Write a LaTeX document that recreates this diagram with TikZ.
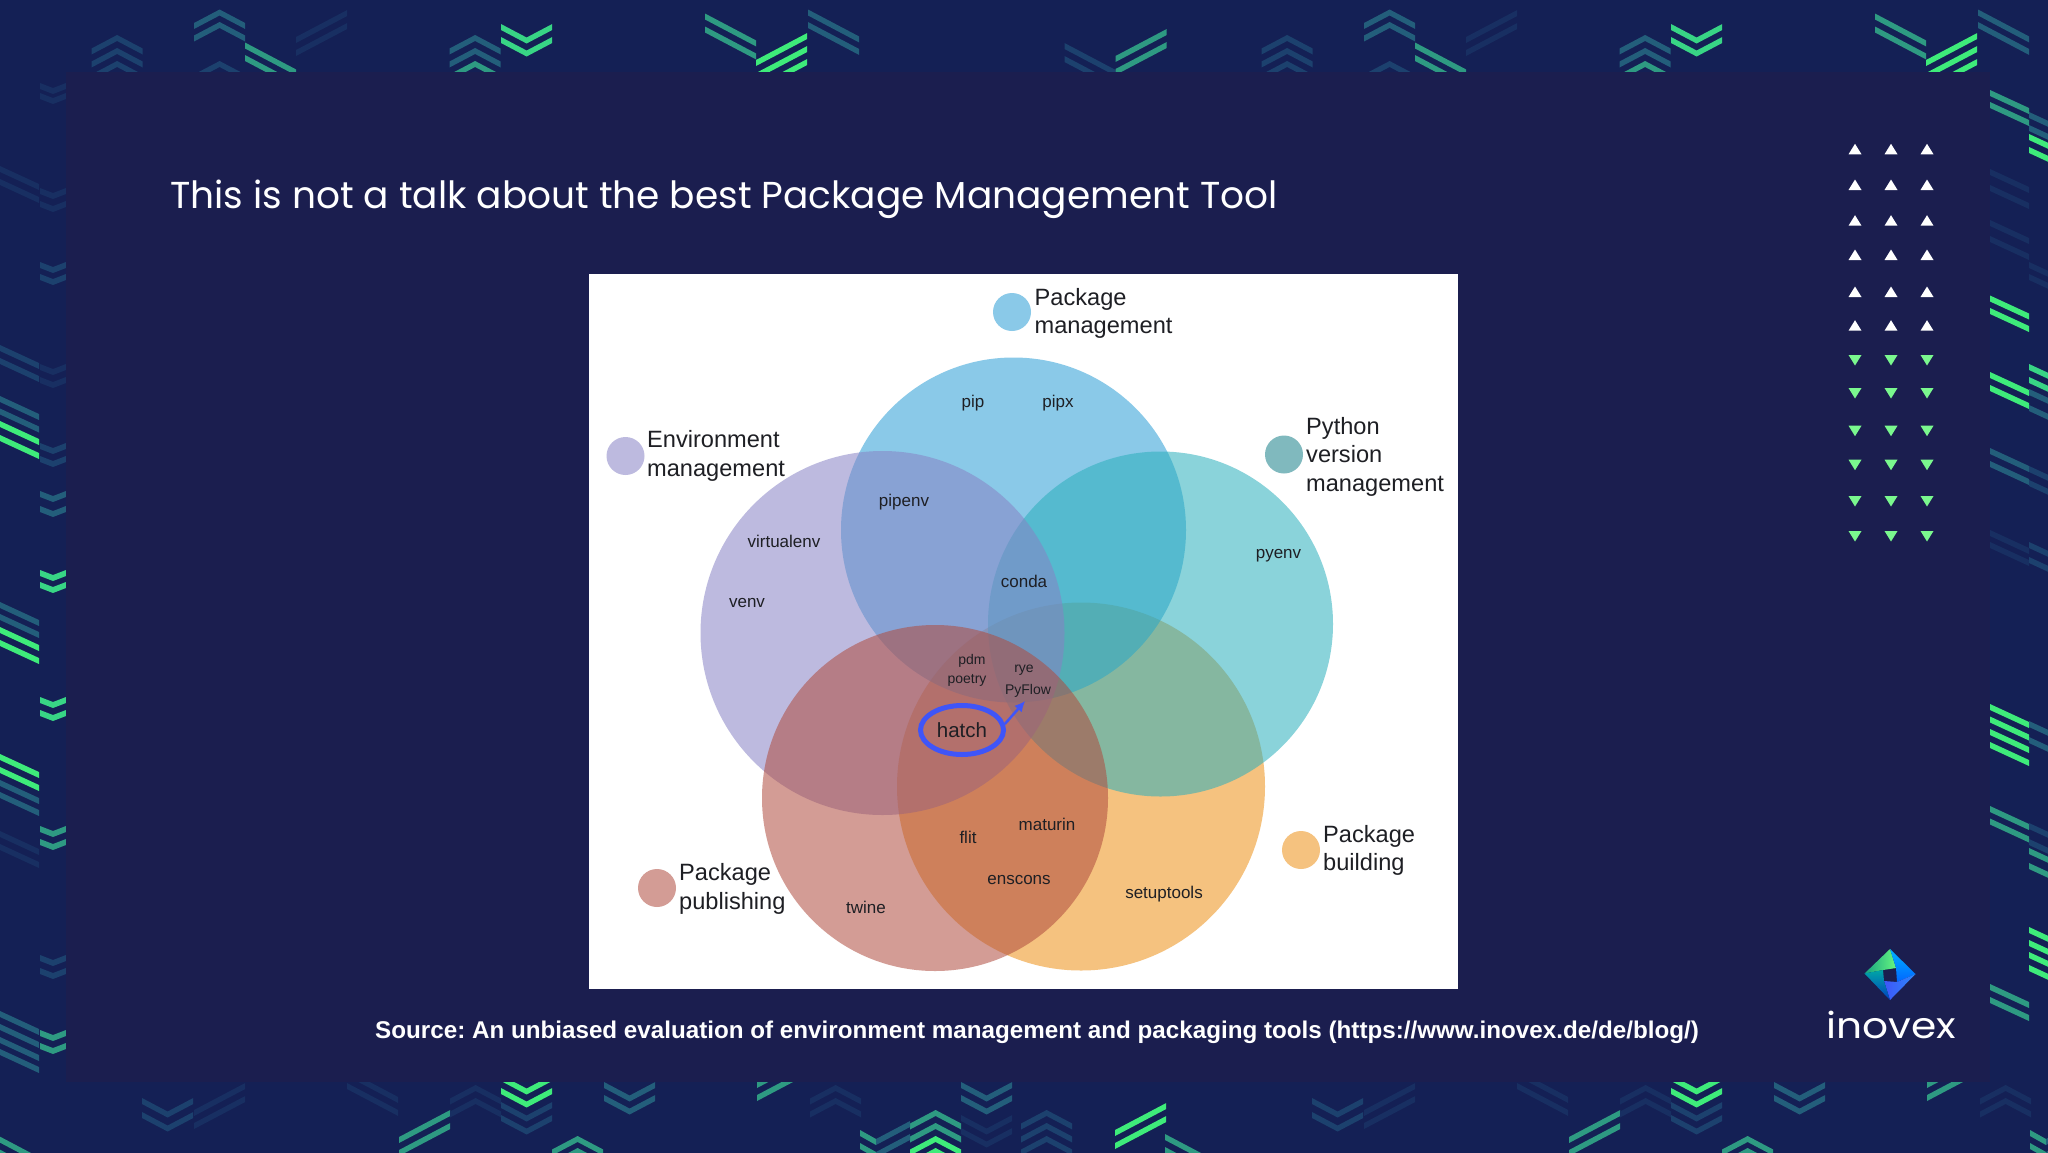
\documentclass[tikz,border=0pt]{standalone}
\usepackage{fontspec}
\setmainfont{Liberation Sans}
\newfontfamily\titlefont{Poppins}
\usetikzlibrary{shapes.geometric, arrows.meta}
\definecolor{bandbg}{HTML}{142055}
\definecolor{panelbg}{HTML}{1B1E4F}
\definecolor{gA}{HTML}{3EEB7A}
\definecolor{gB}{HTML}{38D585}
\definecolor{gC}{HTML}{2E9A82}
\definecolor{gD}{HTML}{235E7B}
\definecolor{gE}{HTML}{1C416E}
\definecolor{gF}{HTML}{182F62}
\definecolor{pmcol}{HTML}{2A9DD6}
\definecolor{envcol}{HTML}{8782C5}
\definecolor{pyvcol}{HTML}{2AAFBC}
\definecolor{pubcol}{HTML}{AF4B3E}
\definecolor{bldcol}{HTML}{ED9016}
\definecolor{ringcol}{HTML}{3F55F8}
\definecolor{labelcol}{HTML}{1E1F24}
\def\tilew{51.2}
\def\tiled{13.5}
\newcommand{\ptile}[6]{\fill[#6] (#1,#2) -- ++({#3/2},#4) -- ++({#3/2},#5) -- ++(0,6) -- ++({-#3/2},{-(#5)}) -- ++({-#3/2},{-(#4)}) -- cycle;}
\newcommand{\chup}[3]{\foreach \yy in {#2} {\ptile{#1}{\yy+\tiled}{\tilew}{-\tiled}{\tiled}{#3}}}
\newcommand{\chdn}[3]{\foreach \yy in {#2} {\ptile{#1}{\yy}{\tilew}{\tiled}{-\tiled}{#3}}}
\newcommand{\sldn}[3]{\foreach \yy in {#2} {\ptile{#1}{\yy}{\tilew}{\tiled}{\tiled}{#3}}}
\newcommand{\slup}[3]{\foreach \yy in {#2} {\ptile{#1}{\yy}{\tilew}{-\tiled}{-\tiled}{#3}}}
\tikzset{
	venn/.style={circle, inner sep=0pt, fill opacity=0.55},
	dot/.style={circle, inner sep=0pt, minimum size=38pt},
	bigtxt/.style={anchor=west, align=left, inner sep=0pt, text=labelcol, font=\fontsize{23.6}{28.5}\selectfont},
	tool/.style={inner sep=0pt, text=labelcol, font=\fontsize{17}{20}\selectfont},
	tiny/.style={inner sep=0pt, text=labelcol, font=\fontsize{14}{16}\selectfont},
	upmark/.style={fill=white},
	downmark/.style={fill=green!45!gA!60!white}
}
\begin{document}
\frenchspacing
\begin{tikzpicture}[x=1pt, y=-1pt]
	\useasboundingbox (0,0) rectangle (2048,1152);
	\fill[bandbg] (-5,-5) rectangle (2053,1157);

	\foreach \sx in {0,1170} {
		\begin{scope}[xshift=\sx pt]
			\chup{91.5}{35,48,61}{gE}
			\chup{194}{9.5,22}{gD}
			\chup{194}{61}{gE}
			\sldn{245}{42.5,55}{gC}
			\slup{296}{37,50}{gF}
			\chup{449.5}{35,48}{gD}
			\chup{449.5}{61}{gC}
			\chdn{501}{24,37}{gB}
			\sldn{705}{13.5,26.5}{gC}
			\slup{756}{60,73,86}{gA}
			\sldn{808}{9.5,22}{gD}
			\chdn{142}{1098,1112}{gE}
			\slup{194}{1110,1123}{gF}
			\sldn{347}{1070,1083}{gF}
			\slup{399}{1137,1150}{gC}
			\chup{450}{1085,1098}{gF}
			\chdn{501}{1075,1088}{gA}
			\chdn{501}{1102,1115}{gE}
			\chup{552}{1136,1148}{gC}
			\chdn{604}{1082,1095}{gD}
			\slup{757}{1082,1095}{gC}
			\chup{810}{1085,1098}{gF}
			\chup{910}{1110,1123}{gC}
			\chup{910}{1136,1148}{gA}
			\chdn{961}{1082,1095}{gD}
			\chdn{961}{1115,1128}{gF}
			\sldn{-5}{1134,1147}{gC}
			\ptile{860}{1130}{16}{4.5}{4.5}{gC}
			\ptile{876}{1139}{34}{-9}{-9}{gD}
			\ptile{860}{1143}{16}{4.5}{4.5}{gC}
			\ptile{876}{1152}{34}{-9}{-9}{gD}
		\end{scope}
	}
	\sldn{1064.5}{43,56}{gE}
	\slup{1115.5}{56,69}{gC}
	\chup{1021}{1110,1123,1136}{gE}
	\slup{1115}{1130,1143}{gA}

	\def\tilew{39}
	\def\tiled{9}
	\sldn{0}{166,179}{gF}
	\sldn{0}{345,358}{gE}
	\sldn{0}{396,408.5}{gD}
	\sldn{0}{421,435}{gA}
	\sldn{0}{602,614}{gD}
	\sldn{0}{627,640}{gA}
	\sldn{0}{754,767}{gA}
	\sldn{0}{780,792}{gD}
	\sldn{0}{831,844}{gF}
	\sldn{0}{1011,1024,1037,1049}{gD}
	\sldn{1990}{90,102}{gC}
	\sldn{1990}{169,185}{gF}
	\sldn{1990}{220,236}{gF}
	\sldn{1990}{295.5,308}{gA}
	\sldn{1990}{372,385}{gA}
	\sldn{1990}{448,461}{gD}
	\sldn{1990}{530,542}{gF}
	\sldn{1990}{704,716.5,729,742}{gA}
	\sldn{1990}{806,818.5}{gC}
	\sldn{1990}{984,997}{gC}
	\chdn{2029}{112,125}{gD}
	\chdn{2029}{134,147}{gA}
	\chdn{2029}{262,274}{gF}
	\chdn{2029}{364,377}{gB}
	\chdn{2029}{389,405}{gD}
	\chdn{2029}{466,480}{gE}
	\chdn{2029}{542,557}{gE}
	\chdn{2029}{721,737}{gD}
	\chdn{2029}{823,839}{gE}
	\chdn{2029}{848,863}{gC}
	\chdn{2029}{927,940,952,965}{gA}
	\def\tilew{26}
	\def\tiled{5}
	\chdn{40}{83,93}{gF}
	\chdn{40}{188,201}{gF}
	\chdn{40}{262,274}{gE}
	\chdn{40}{364,377}{gF}
	\chdn{40}{443,456}{gE}
	\chdn{40}{491,506}{gD}
	\chdn{40}{570,582}{gB}
	\chdn{40}{697,710}{gB}
	\chdn{40}{826,839}{gC}
	\chdn{40}{955,968}{gE}
	\chdn{40}{1030,1043}{gC}

	\fill[panelbg] (66,72) rectangle (1990,1082);

	\foreach \mx in {1855,1891,1927} {
		\foreach \my in {149.3,185,220.7,255,292,325.7} {
			\fill[upmark] (\mx,\my-5.5) -- (\mx+6.5,\my+5) -- (\mx-6.5,\my+5) -- cycle;
		}
		\foreach \my in {360,393,430.7,464.7,501,536} {
			\fill[downmark] (\mx,\my+5.5) -- (\mx+6.5,\my-5) -- (\mx-6.5,\my-5) -- cycle;
		}
	}

	\node[anchor=west, inner sep=0pt, text=white, font=\titlefont\fontsize{37.5}{44}\selectfont] (title) at (170,199.5) {This is not a talk about the best Package Management Tool};

	\fill[white] (589,274) rectangle (1458,989);

	\node[venn, minimum size=368pt, fill=bldcol] (bld) at (1081,786.5) {};
	\node[venn, minimum size=345pt, fill=pmcol] (pm) at (1013.5,530) {};
	\node[venn, minimum size=345pt, fill=pyvcol] (pyv) at (1160.5,624) {};
	\node[venn, minimum size=364pt, fill=envcol] (env) at (882.5,633) {};
	\node[venn, minimum size=346pt, fill=pubcol] (pub) at (935,798) {};

	\node[dot, fill=pmcol!55!white] (pm_dot) at (1012,312) {};
	\node[dot, fill=envcol!55!white] (env_dot) at (625.5,456) {};
	\node[dot, fill={rgb,255:red,128;green,185;blue,190}] (pyv_dot) at (1284,454.5) {};
	\node[dot, fill=bldcol!55!white] (bld_dot) at (1301,850) {};
	\node[dot, fill=pubcol!55!white] (pub_dot) at (657,888) {};

	\node[bigtxt] (pm_txt) at (1034.5,313.5) {Package\\management};
	\node[bigtxt] (env_txt) at (647,456) {Environment\\management};
	\node[bigtxt] (pyv_txt) at (1306,456.5) {Python\\version\\management};
	\node[bigtxt] (bld_txt) at (1323,850.5) {Package\\building};
	\node[bigtxt] (pub_txt) at (679,889) {Package\\publishing};

	\node[tool] (pip) at (973,403) {pip};
	\node[tool] (pipx) at (1058,403) {pipx};
	\node[tool] (pipenv) at (904,502) {pipenv};
	\node[tool] (virtualenv) at (784,541) {virtualenv};
	\node[tool] (venv) at (747,603) {venv};
	\node[tool] (conda) at (1024,581) {conda};
	\node[tool] (pyenv) at (1278.5,556) {pyenv};
	\node[tool] (maturin) at (1047,824.5) {maturin};
	\node[tool] (flit) at (968,837) {flit};
	\node[tool] (enscons) at (1019,880) {enscons};
	\node[tool] (twine) at (866,907) {twine};
	\node[tool] (setuptools) at (1164,894.5) {setuptools};
	\node[tiny] (pdm) at (972,660.5) {pdm};
	\node[tiny] (poetry) at (967,680) {poetry};
	\node[tiny] (rye) at (1024,670.5) {rye};
	\node[tiny] (pyflow) at (1028,691) {PyFlow};

	\node[ellipse, draw=ringcol, line width=5pt, inner sep=0pt, minimum width=83pt, minimum height=49pt, text=labelcol, font=\fontsize{20.5}{22}\selectfont] (hatch) at (962,730) {hatch};
	\draw[-{Latex[length=11pt,width=10pt]}, ringcol, line width=2.5pt, shorten >=4pt] (hatch.8) -- (pyflow.south);

	\node[anchor=center, inner sep=0pt, text=white, font=\bfseries\fontsize{24.2}{30}\selectfont] (source) at (1037,1032) {Source: An unbiased evaluation of environment management and packaging tools (https://www.inovex.de/de/blog/)};

	\shade[left color=teal!60!gB, right color=gA!60!green!70!white] (1864.5,973.5) -- (1890,949) -- (1896,968) -- (1883,970) -- cycle;
	\shade[top color=cyan!70!blue, bottom color=blue!60!cyan] (1890,949) -- (1915.5,974) -- (1897,982) -- (1896,968) -- cycle;
	\shade[left color=ringcol, right color=ringcol!70!cyan] (1915.5,974) -- (1890,1000) -- (1884,981) -- (1897,982) -- cycle;
	\shade[top color=teal!70!cyan, bottom color=teal!50!blue] (1890,1000) -- (1864.5,973.5) -- (1883,970) -- (1884,981) -- cycle;
	\node[inner sep=0pt, xscale=1.13, transform shape, text=white, font=\titlefont\fontsize{36}{40}\selectfont] (logo) at (1891,1025) {inovex};
\end{tikzpicture}
\end{document}
